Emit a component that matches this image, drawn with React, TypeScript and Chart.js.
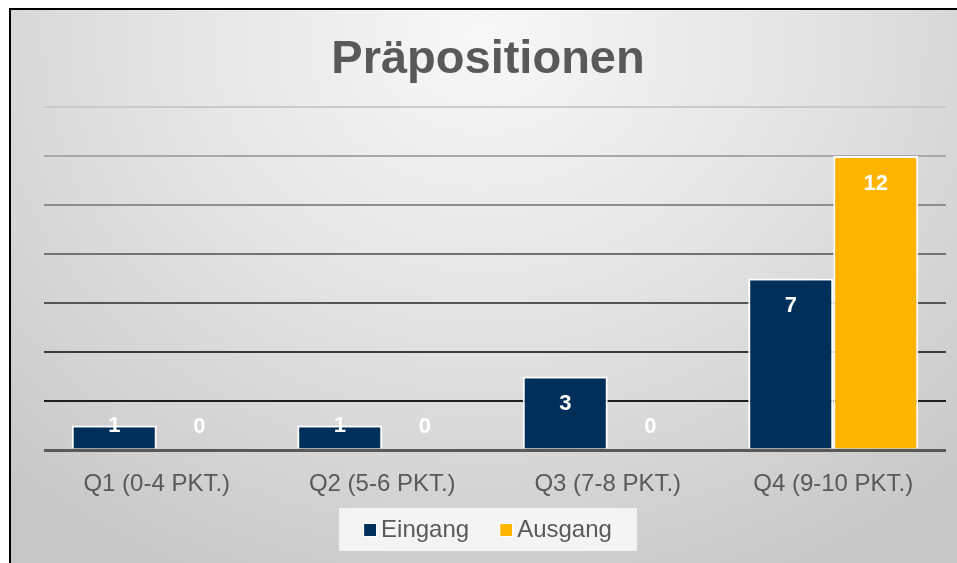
import React, { useEffect, useRef } from "react";
import { Chart, registerables } from "chart.js";

Chart.register(...registerables);

const chartTitle = "Präpositionen";
const categories = ["Q1 (0-4 PKT.)", "Q2 (5-6 PKT.)", "Q3 (7-8 PKT.)", "Q4 (9-10 PKT.)"];
const seriesNames = ["Eingang", "Ausgang"];
const eingang = [1, 1, 3, 7];
const ausgang = [0, 0, 0, 12];
const seriesColors = ["#00305A", "#FFB500"];
const yMax = 14;
const yStep = 2;

const FONT = "'Liberation Sans', Arial, sans-serif";
const TEXT_GRAY = "#595959";

const gridColors: Record<number, string> = {
  14: "#cacaca",
  12: "#a8a8a8",
  10: "#8e8e8e",
  8: "#727272",
  6: "#565656",
  4: "#3a3a3a",
  2: "#1f1f1f",
  0: "#595959",
};

const titlePlugin = {
  id: "customTitle",
  afterDraw(chart: any) {
    const ctx = chart.ctx;
    const area = chart.chartArea;
    ctx.save();
    ctx.font = `bold 47px ${FONT}`;
    ctx.fillStyle = TEXT_GRAY;
    ctx.textAlign = "center";
    ctx.textBaseline = "alphabetic";
    ctx.fillText(chartTitle, (area.left + area.right) / 2 - 7, 63);
    ctx.restore();
  },
};

const labelPlugin = {
  id: "valueLabels",
  afterDatasetsDraw(chart: any) {
    const ctx = chart.ctx;
    ctx.save();
    ctx.font = `bold 22px ${FONT}`;
    ctx.fillStyle = "#ffffff";
    ctx.textAlign = "center";
    ctx.textBaseline = "middle";
    chart.data.datasets.forEach((ds: any, di: number) => {
      const meta = chart.getDatasetMeta(di);
      meta.data.forEach((el: any, i: number) => {
        const y = Math.min(el.y + 27.5, el.base - 23);
        ctx.fillText(String(ds.data[i]), el.x, y);
      });
    });
    ctx.restore();
  },
};

const legendPlugin = {
  id: "customLegend",
  afterDraw(chart: any) {
    const ctx = chart.ctx;
    const area = chart.chartArea;
    ctx.save();
    ctx.font = `24px ${FONT}`;
    const marker = 12;
    const markerGap = 5;
    const itemGap = 31;
    const widths = chart.data.datasets.map((ds: any) => marker + markerGap + ctx.measureText(ds.label).width);
    const total = widths.reduce((a: number, b: number) => a + b, 0) + itemGap * (widths.length - 1);
    const cx = (area.left + area.right) / 2 - 7;
    const boxPad = 25;
    const boxTop = 498;
    const boxH = 43;
    let x = cx - total / 2;
    ctx.fillStyle = "#f4f4f4";
    ctx.fillRect(x - boxPad, boxTop, total + boxPad * 2, boxH);
    const baseY = 527;
    chart.data.datasets.forEach((ds: any, i: number) => {
      ctx.fillStyle = ds.backgroundColor;
      ctx.fillRect(x, baseY - 13, marker, marker);
      ctx.strokeStyle = "#ffffff";
      ctx.lineWidth = 1;
      ctx.strokeRect(x - 0.5, baseY - 13.5, marker + 1, marker + 1);
      ctx.fillStyle = TEXT_GRAY;
      ctx.textAlign = "left";
      ctx.textBaseline = "alphabetic";
      ctx.fillText(ds.label, x + marker + markerGap, baseY);
      x += widths[i] + itemGap;
    });
    ctx.restore();
  },
};

export default function App() {
  const canvasRef = useRef<HTMLCanvasElement | null>(null);

  useEffect(() => {
    if (!canvasRef.current) return;
    const chart = new Chart(canvasRef.current, {
      type: "bar",
      data: {
        labels: categories,
        datasets: [
          {
            label: seriesNames[0],
            data: eingang,
            backgroundColor: seriesColors[0],
            borderColor: "#ffffff",
            borderWidth: 2,
          },
          {
            label: seriesNames[1],
            data: ausgang,
            backgroundColor: seriesColors[1],
            borderColor: "#ffffff",
            borderWidth: 2,
          },
        ],
      },
      options: {
        animation: false,
        responsive: true,
        maintainAspectRatio: false,
        layout: { padding: { top: 97, left: 33, right: 11, bottom: 0 } },
        datasets: {
          bar: { categoryPercentage: 0.754, barPercentage: 1 },
        },
        plugins: {
          legend: { display: false },
          title: { display: false },
          tooltip: { enabled: false },
        },
        scales: {
          x: {
            grid: { display: false, drawTicks: false },
            border: { display: false },
            ticks: {
              color: TEXT_GRAY,
              font: { family: FONT, size: 24 },
              padding: 20,
              maxRotation: 0,
              autoSkip: false,
            },
            afterFit(scale: any) {
              scale.height = 113;
            },
          },
          y: {
            min: 0,
            max: yMax,
            ticks: { display: false, stepSize: yStep },
            border: { display: false },
            grid: {
              drawTicks: false,
              color: (c: any) => gridColors[c.tick?.value] ?? "#888888",
              lineWidth: (c: any) => (c.tick?.value === 0 ? 3 : 2),
            },
            afterFit(scale: any) {
              scale.width = 0;
            },
          },
        },
      },
      plugins: [titlePlugin, labelPlugin, legendPlugin],
    });
    return () => chart.destroy();
  }, []);

  return (
    <div
      style={{
        position: "absolute",
        left: 9,
        top: 8,
        width: 946,
        height: 553,
        borderLeft: "2px solid #000",
        borderTop: "2px solid #000",
        overflow: "hidden",
        background:
          "radial-gradient(ellipse 75% 110% at 50% 5%, #f8f8f8 0%, #e4e4e4 45%, #c7c7c7 100%)",
      }}
    >
      <canvas ref={canvasRef} />
    </div>
  );
}
